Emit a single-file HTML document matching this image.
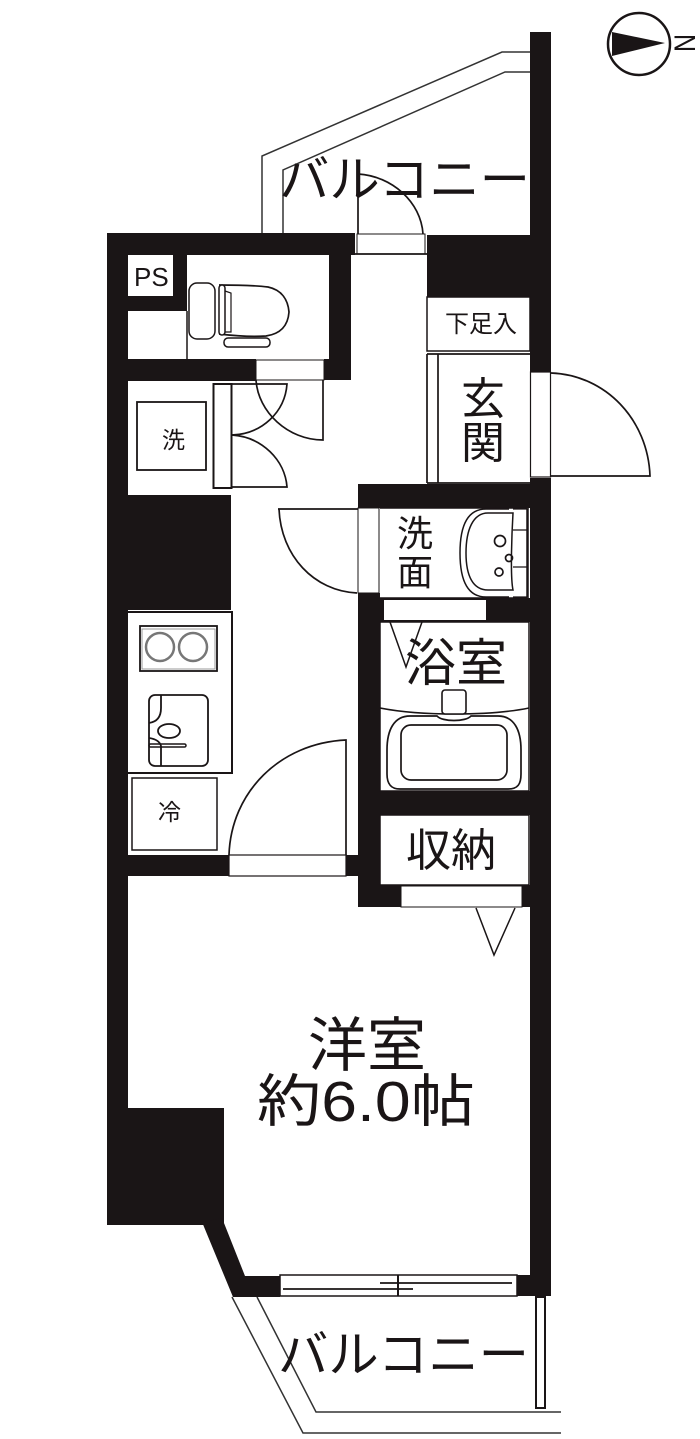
<!DOCTYPE html>
<html><head><meta charset="utf-8"><style>
html,body{margin:0;padding:0;background:#fff;width:700px;height:1439px;overflow:hidden}
svg{display:block}
text{font-family:"Liberation Sans","Noto Sans CJK JP",sans-serif;fill:#1a1516}
</style></head><body>
<svg width="700" height="1439" viewBox="0 0 700 1439" xmlns="http://www.w3.org/2000/svg">
<rect width="700" height="1439" fill="#fff"/>
<!-- balcony lines -->
<g fill="none" stroke="#333" stroke-width="1.5">
<path d="M262 234V156L502 52H530"/>
<path d="M283 234V170L505 72H530"/>
<path d="M232 1297L303 1433H561"/>
<path d="M257 1297L316 1412H561"/>
</g>
<rect x="536" y="1297" width="9" height="111" fill="#fff" stroke="#1a1516" stroke-width="2"/>
<!-- walls -->
<g fill="#1a1516">
<rect x="530" y="32" width="21" height="340"/>
<rect x="530" y="478" width="21" height="818"/>
<rect x="107" y="233" width="248" height="22"/>
<rect x="427" y="235" width="103" height="62"/>
<rect x="107" y="233" width="21" height="992"/>
<rect x="329" y="233" width="22" height="147"/>
<rect x="173" y="255" width="14" height="56"/>
<rect x="128" y="296" width="58" height="15"/>
<rect x="128" y="359" width="128" height="22"/>
<rect x="324" y="359" width="27" height="21"/>
<rect x="107" y="495" width="124" height="115"/>
<rect x="128" y="855" width="101" height="21"/>
<rect x="346" y="855" width="12" height="21"/>
<rect x="358" y="484" width="193" height="24"/>
<rect x="358" y="593" width="22" height="314"/>
<rect x="380" y="598" width="150" height="24"/>
<rect x="380" y="791" width="150" height="24"/>
<rect x="380" y="885" width="21" height="22"/>
<rect x="522" y="885" width="8" height="22"/>
<rect x="107" y="1108" width="117" height="117"/>
<path d="M202 1222L222 1218L245 1276H280V1297H233Z"/>
<rect x="517" y="1275" width="34" height="21"/>
</g>
<!-- white fixtures / doors in walls -->
<g fill="#fff">
<rect x="128" y="381" width="85" height="113"/>
<rect x="384" y="600" width="102" height="20"/>
</g>
<rect x="213.500" y="384" width="18" height="104" fill="#fff" stroke="#1a1516" stroke-width="2"/>
<g fill="none" stroke="#1a1516" stroke-width="1.700">
<rect x="357" y="234" width="68" height="20" stroke-width="1" fill="#fff"/>
<rect x="256" y="360" width="68" height="20" stroke-width="1" fill="#fff"/>
<path d="M351 254H428M428 254V297"/>
<path d="M187 311V359" stroke-width="1.500"/>
<!-- upper balcony door -->
<path d="M358 234V174C392 176 421 202 423 234"/>
<!-- toilet doors -->
<path d="M232 384H287C285 412 262 434 232 435"/>
<path d="M323 380V440C288 440 258 412 256 380"/>
<path d="M232 435C262 437 285 460 287 487H232"/>
<!-- entrance -->
<rect x="530.500" y="372" width="20" height="105" fill="#fff" stroke-width="1.200"/>
<path d="M551 373C606 375 648 420 650 476H551"/>
<!-- genkan -->
<rect x="427" y="297" width="103" height="54" stroke-width="1.500"/>
<path d="M427 354H530M427 354V483M438 354V483M427 483H530"/>
<!-- wash room door -->
<rect x="358" y="508" width="21" height="85" fill="#fff" stroke-width="1"/>
<path d="M278 509H358M357 593C314 591 281 556 279 509"/>
<!-- room door -->
<rect x="229" y="855" width="117" height="21" fill="#fff" stroke-width="1.200"/>
<path d="M229 855C231 792 280 743 346 740V855"/>
<!-- washer -->
<rect x="137" y="402" width="69" height="68" stroke-width="1.800"/>
<!-- toilet -->
<rect x="189" y="283" width="26" height="56" rx="8" stroke-width="1.500" fill="#fff"/>
<path d="M219 285C235 285 252 285 268 287C282 290 288 300 289 312C288 326 280 334 266 336C252 337 236 336 219 334" fill="#fff"/>
<rect x="219" y="285" width="6" height="50" rx="3" fill="#fff" stroke-width="1.500"/>
<path d="M225 291L231 293V332H225" stroke-width="1.200"/>
<rect x="224" y="338" width="46" height="9" rx="4" fill="#fff" stroke-width="1.500"/>
<!-- kitchen -->
<path d="M128 612H232V773H128" stroke-width="2"/>
<rect x="140" y="626" width="77" height="45" stroke-width="1.800"/>
<rect x="142" y="629" width="73" height="40" stroke-width="1" stroke="#999"/>
<circle cx="160" cy="647" r="14" stroke="#777" stroke-width="2.500"/>
<circle cx="193" cy="647" r="14" stroke="#777" stroke-width="2.500"/>
<rect x="149" y="695" width="59" height="71" rx="6" stroke-width="1.800"/>
<path d="M161 695V708C161 718 156 722 149 723M149 738C156 739 160 742 161 746V766" stroke-width="1.800"/>
<ellipse cx="169" cy="731" rx="11" ry="7" stroke-width="1.800"/>
<rect x="149" y="744" width="37" height="3" rx="1.500" stroke-width="1.500"/>
<rect x="132" y="778" width="85" height="72" stroke-width="1.500"/>
<!-- wash basin -->
<path d="M380 508H528M380 598H528V508" stroke-width="1.500"/>
<path d="M509 509H486C466 509 460 528 460 553C460 578 466 597 486 597H509" stroke-width="1.500"/>
<path d="M513 513H488C473 513 466 530 466 553C466 576 473 590 488 590H513C510 576 512 530 513 513Z" stroke-width="1.500"/>
<path d="M513 509H527M513 530H527M513 567H527M513 597H527" stroke-width="1.200"/>
<circle cx="500" cy="541" r="5.500"/><circle cx="509" cy="558" r="3.500"/><circle cx="499" cy="572" r="4"/>
<path d="M527 509V597" stroke-width="1.500"/>
<!-- bath -->
<path d="M380 622H529V791H380Z" stroke-width="1.500"/>
<path d="M380 708C420 716 490 716 529 708" stroke-width="1.500"/>
<rect x="442" y="690" width="24" height="24" rx="3" fill="#fff" stroke-width="1.600"/>
<path d="M437 716H410C394 716 387 730 387 750V774C387 784 391 789 400 789H508C518 789 521 784 521 774V750C521 730 514 716 498 716H471C466 722 442 722 437 716Z" stroke-width="1.700"/>
<rect x="401" y="725" width="106" height="55" rx="10" stroke-width="1.700"/>
<!-- triangle marks -->
<path d="M390 622L406 667L422 622" stroke-width="1.500"/>
<path d="M476 908L494 955L515 908" stroke-width="1.500"/>
<!-- storage -->
<rect x="380" y="815" width="149" height="70" stroke-width="1.500"/>
<rect x="401" y="886" width="121" height="21" fill="#fff" stroke-width="1"/>
<!-- window -->
<rect x="280" y="1275" width="237" height="21" fill="#fff" stroke-width="1.500"/>
<path d="M398 1275V1296" stroke-width="2"/>
<path d="M380 1283H512M283 1289H413" stroke-width="1.700"/>
<!-- compass -->
<circle cx="639" cy="44" r="31" stroke-width="2.500"/>
</g>
<path d="M612 32L665 43L612 56Z" fill="#1a1516"/>
<text transform="translate(695,43) rotate(-90)" font-size="30" text-anchor="middle" textLength="18" lengthAdjust="spacingAndGlyphs">N</text>
<!-- labels -->
<text x="279" y="197" font-size="50" textLength="251" lengthAdjust="spacingAndGlyphs">バルコニー</text>
<text x="278" y="1372" font-size="50" textLength="251" lengthAdjust="spacingAndGlyphs">バルコニー</text>
<text x="134" y="286" font-size="26">PS</text>
<text x="445" y="332" font-size="24" textLength="72" lengthAdjust="spacingAndGlyphs">下足入</text>
<text x="461" y="414" font-size="44">玄</text>
<text x="461" y="458" font-size="44">関</text>
<text x="162" y="448" font-size="23">洗</text>
<text x="158" y="820" font-size="23">冷</text>
<text x="397" y="546" font-size="36">洗</text>
<text x="397" y="585" font-size="36">面</text>
<text x="405" y="681" font-size="51">浴室</text>
<text x="406" y="866" font-size="45">収納</text>
<text x="308" y="1066" font-size="59">洋室</text>
<text x="257" y="1121" font-size="57" textLength="218" lengthAdjust="spacingAndGlyphs">約6.0帖</text>
</svg>
</body></html>
